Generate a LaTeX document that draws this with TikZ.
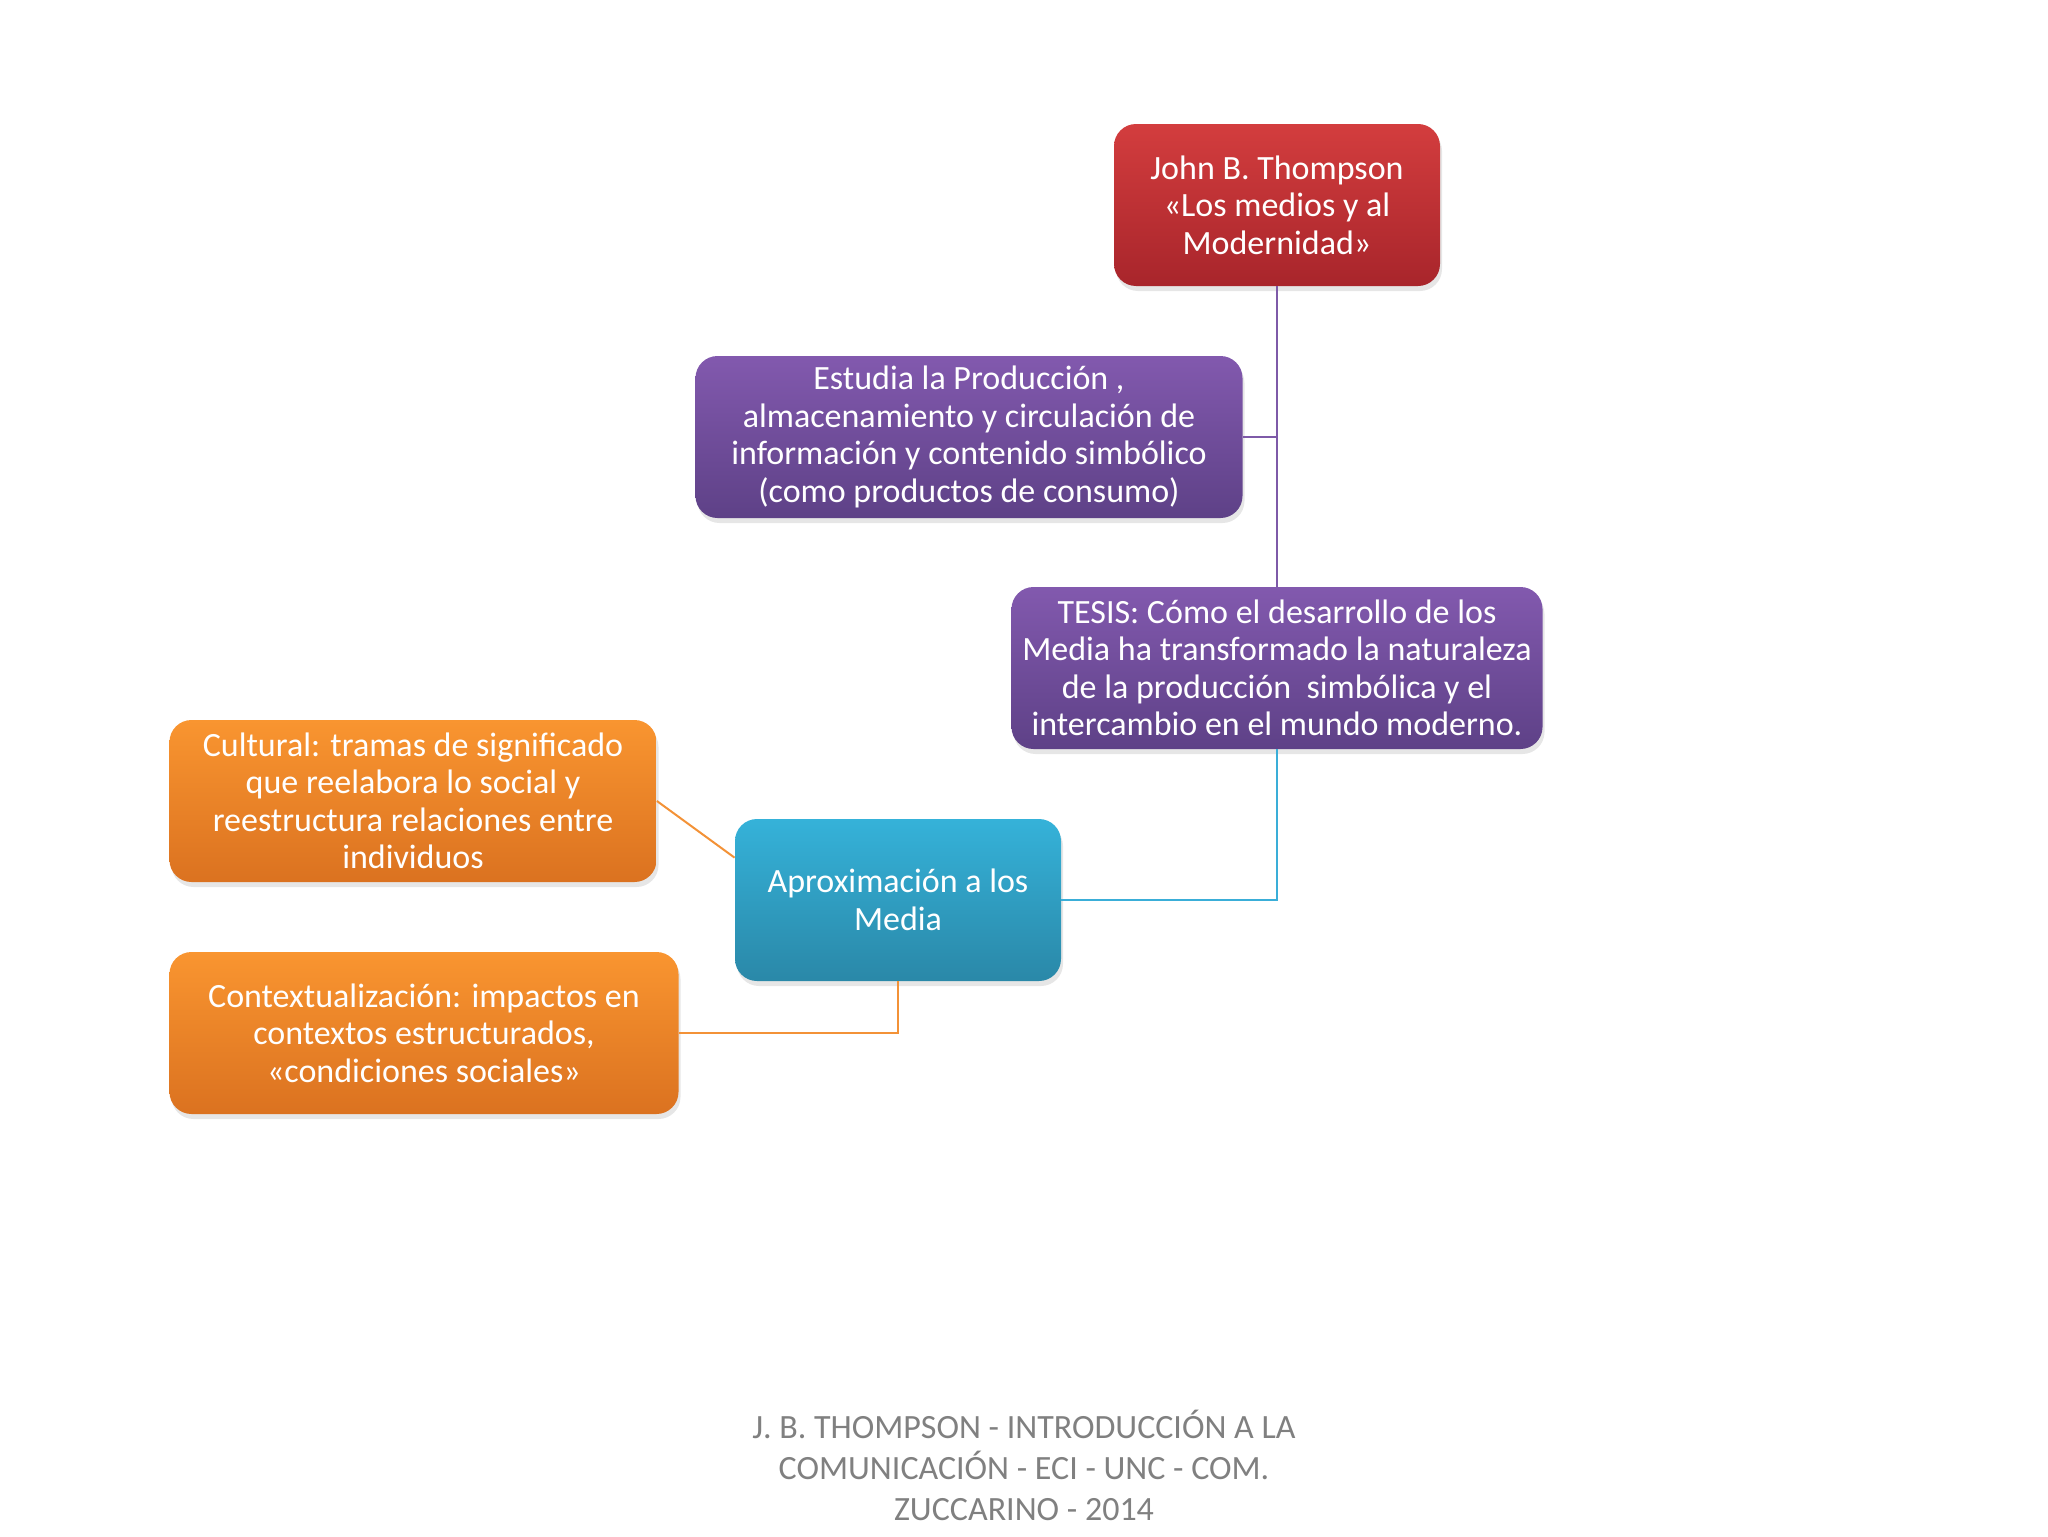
\documentclass[tikz,border=0pt]{standalone}
\usepackage{fontspec}
\setmainfont{Carlito}
\usepackage{xcolor}
\usetikzlibrary{
    positioning,
    calc,
    shadows
}

\definecolor{redtop}{RGB}{211,61,62}
\definecolor{redbot}{RGB}{168,37,43}
\definecolor{purtop}{RGB}{130,89,174}
\definecolor{purbot}{RGB}{94,65,135}
\definecolor{bluetop}{RGB}{53,178,217}
\definecolor{bluebot}{RGB}{42,136,168}
\definecolor{orgtop}{RGB}{249,149,48}
\definecolor{orgbot}{RGB}{219,114,32}
\definecolor{purline}{RGB}{126,90,168}
\definecolor{blueline}{RGB}{58,174,216}
\definecolor{orgline}{RGB}{243,146,55}
\definecolor{footgray}{RGB}{128,128,128}

\begin{document}
\begin{tikzpicture}[
    x=0.5pt, y=-0.5pt,
    box/.style={rounded corners=11pt, align=center, text=white,
        minimum height=81pt, inner sep=2pt,
        font=\fontsize{17}{18.7}\selectfont,
        drop shadow={shadow xshift=1pt, shadow yshift=-2.5pt,
            opacity=0.2, fill=black!50}},
    redbox/.style={box, top color=redtop, bottom color=redbot},
    purbox/.style={box, top color=purtop, bottom color=purbot},
    bluebox/.style={box, top color=bluetop, bottom color=bluebot},
    orgbox/.style={box, top color=orgtop, bottom color=orgbot},
    link/.style={line width=1pt}
]

\useasboundingbox (0,0) rectangle (2048,1536);

% boxes
\node[redbox, minimum width=163pt] (thompson) at (1277,205)
    {John B. Thompson\\«Los medios y al\\Modernidad»};

\node[purbox, minimum width=273.5pt] (estudia) at (969,437)
    {Estudia la Producción ,\\almacenamiento y circulación de\\información y contenido simbólico\\(como productos de consumo)};

\node[purbox, minimum width=265.5pt] (tesis) at (1277,668)
    {TESIS: Cómo el desarrollo de los\\Media ha transformado la naturaleza\\de la producción\ \ simbólica y el\\intercambio en el mundo moderno.};

\node[bluebox, minimum width=163pt] (aprox) at (898,900)
    {Aproximación a los\\Media};

\node[orgbox, minimum width=243.5pt] (cultural) at (413,801)
    {Cultural: tramas de significado\\que reelabora lo social y\\reestructura relaciones entre\\individuos};

\node[orgbox, minimum width=254.5pt] (contexto) at (424,1033)
    {Contextualización: impactos en\\contextos estructurados,\\«condiciones sociales»};

% connectors
\draw[link, purline] (thompson.south) -- (tesis.north);
\draw[link, purline] (estudia.east) -- (thompson.south |- estudia.east);
\draw[link, blueline] (aprox.east) -| (tesis.south);
\coordinate (aproxin) at ($(aprox.north west)!0.24!(aprox.south west)$);
\draw[link, orgline] (cultural.east) -- (aproxin);
\draw[link, orgline] (aprox.south) |- (contexto.east);

% footer
\node[text=footgray, align=center, font=\fontsize{17}{20.5}\selectfont]
    (footer) at (1024,1465)
    {J. B. THOMPSON - INTRODUCCIÓN A LA\\COMUNICACIÓN - ECI - UNC - COM.\\ZUCCARINO - 2014};

\end{tikzpicture}
\end{document}
